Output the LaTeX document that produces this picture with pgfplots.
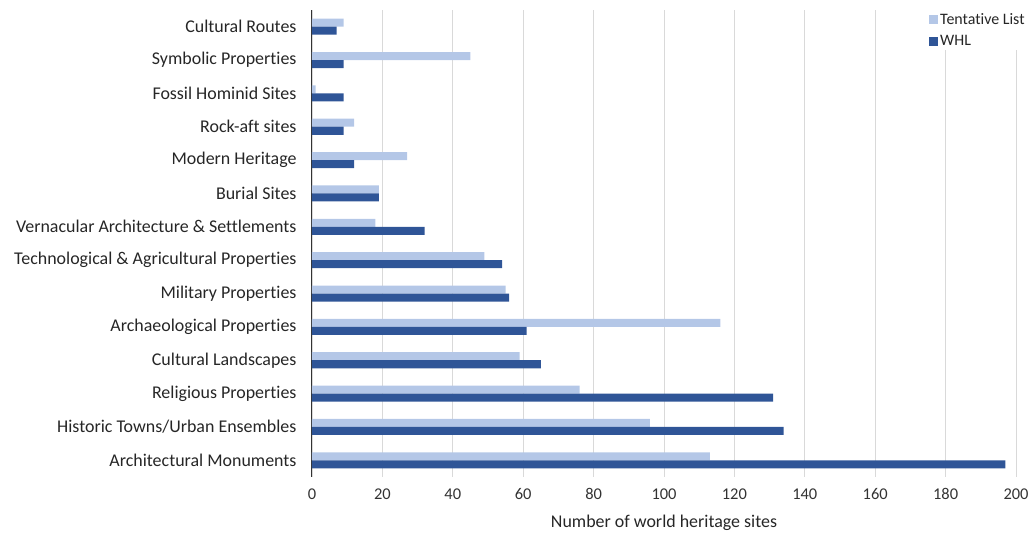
\documentclass[border=0pt]{standalone}
\usepackage{fontspec}
\setmainfont{Carlito}[Ligatures=NoCommon]
\usepackage{pgfplots}
\pgfplotsset{compat=1.18}
\definecolor{tent}{HTML}{B4C7E7}
\definecolor{whl}{HTML}{2F5597}
\definecolor{gridc}{HTML}{D9D9D9}
\begin{document}
\begin{tikzpicture}
\begin{axis}[
  scale only axis,
  width=704bp, height=467bp,
  xmin=0, xmax=200, ymin=-0.5, ymax=13.5,
  xtick={0,20,...,200},
  ytick={0,...,13},
  yticklabels={Architectural Monuments,Historic Towns/Urban Ensembles,Religious Properties,Cultural Landscapes,Archaeological Properties,Military Properties,Technological \& Agricultural Properties,Vernacular Architecture \& Settlements,Burial Sites,Modern Heritage,Rock-aft sites,Fossil Hominid Sites,Symbolic Properties,Cultural Routes},
  yticklabel style={font=\fontsize{18}{20}\selectfont, text=black!85, xshift=-12bp},
  xticklabel style={font=\fontsize{16.5}{18}\selectfont, text=black!80, yshift=-8bp},
  /pgf/number format/assume math mode=true,
  xlabel={Number of world heritage sites},
  xlabel style={font=\fontsize{18}{20}\selectfont, text=black!85, yshift=-8bp},
  xmajorgrids, grid style={gridc, line width=0.8pt},
  axis x line*=bottom, axis y line*=left,
  x axis line style={draw=none},
  y axis line style={draw=black!80, line width=1pt, -},
  major tick length=0pt,
  tick style={draw=none},
  xbar, bar width=0.24,
  legend style={at={(0.875,1.0)}, anchor=north west, draw=none, fill=white,
    font=\fontsize{16}{18}\selectfont, text=black!85, row sep=6bp,
    inner xsep=1bp, inner ysep=1bp},
  legend cell align=left,
  legend image code/.code={\fill[#1] (0bp,-4.5bp) rectangle (9bp,4.5bp);},
]
\addplot[fill=tent, draw=none, bar shift=0.12] coordinates {
(113,0) (96,1) (76,2) (59,3) (116,4) (55,5) (49,6) (18,7) (19,8) (27,9) (12,10) (1,11) (45,12) (9,13)};
\addplot[fill=whl, draw=none, bar shift=-0.12] coordinates {
(197,0) (134,1) (131,2) (65,3) (61,4) (56,5) (54,6) (32,7) (19,8) (12,9) (9,10) (9,11) (9,12) (7,13)};
\legend{Tentative List, WHL}
\end{axis}
\pgfresetboundingbox
\path ([shift={(-312bp,-59bp)}]current axis.south west) rectangle ([shift={(17bp,10bp)}]current axis.north east);
\end{tikzpicture}
\end{document}
